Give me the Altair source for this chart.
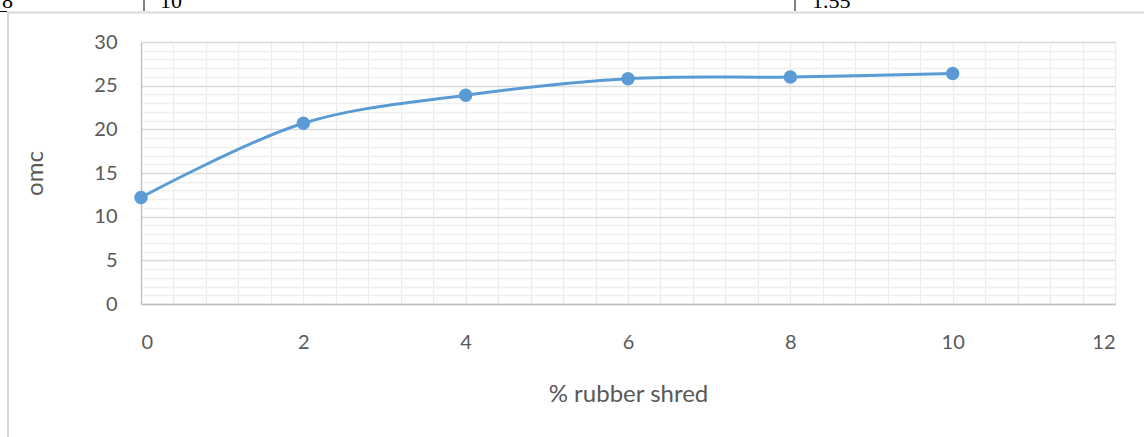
import altair as alt
import pandas as pd

# ---- data ----
rubber_pct = [0, 2, 4, 6, 8, 10]
omc_values = [12.2, 20.7, 23.9, 25.8, 26.0, 26.4]

x_tick_values = [round(0.4 * k, 1) for k in range(31)]   # minor grid every 0.4, labels every 2
y_tick_values = list(range(0, 31))                         # minor grid every 1, labels every 5

table_texts = ["8", "10", "1.55"]          # cut-off table row above the chart
table_text_x = [-139, 19, 671]

df = pd.DataFrame({"rubber": rubber_pct, "omc": omc_values})

FONT = "Lato"
TXT = "#595959"
W, H = 974, 262
PAD = {"left": 141, "top": 42, "right": 29, "bottom": 133}

x_axis = alt.Axis(
    values=x_tick_values,
    labelExpr="abs(datum.value - round(datum.value / 2) * 2) < 0.001 ? format(datum.value, 'd') : ''",
    title="% rubber shred",
    titleFont=FONT, titleFontSize=24, titleFontWeight="normal", titleColor=TXT,
    titlePadding=30,
    labelFont=FONT, labelFontSize=20, labelColor=TXT, labelPadding=28,
    ticks=False, tickSize=0,
    domainColor="#bfbfbf", domainWidth=1.3,
    grid=True, gridColor="#ececec", gridWidth=1.3,
    labelOverlap=False,
)
y_axis = alt.Axis(
    values=y_tick_values,
    labelExpr="datum.value % 5 === 0 ? format(datum.value, 'd') : ''",
    title="omc",
    titleFont=FONT, titleFontSize=24, titleFontWeight="normal", titleColor=TXT,
    titlePadding=46,
    labelFont=FONT, labelFontSize=20, labelColor=TXT, labelPadding=24,
    ticks=False, tickSize=0,
    domainColor="#bfbfbf", domainWidth=1.3,
    grid=True,
    gridColor={"condition": {"test": "datum.value % 5 === 0", "value": "#d9d9d9"}, "value": "#f0f0f0"},
    gridWidth=1.3,
    labelOverlap=False,
)

x_enc = alt.X("rubber:Q", scale=alt.Scale(domain=[0, 12], nice=False, zero=False), axis=x_axis)
y_enc = alt.Y("omc:Q", scale=alt.Scale(domain=[0, 30], nice=False), axis=y_axis)

base = alt.Chart(df).encode(x=x_enc, y=y_enc)
line = base.mark_line(interpolate="catmull-rom", color="#5b9bd5", strokeWidth=3)
pts = base.mark_point(filled=True, size=180, opacity=1, color="#5b9bd5")

one = pd.DataFrame({"a": [0]})
border_col = "#d9d9d9"
top_border = alt.Chart(one).mark_rule(color=border_col, strokeWidth=2).encode(
    x=alt.value(-134), x2=alt.value(1144 - 141), y=alt.value(12.5 - 42))
left_border = alt.Chart(one).mark_rule(color=border_col, strokeWidth=2).encode(
    x=alt.value(8 - 141), y=alt.value(12 - 42), y2=alt.value(437 - 42))
sep1 = alt.Chart(one).mark_rule(color="#000000", strokeWidth=1).encode(
    x=alt.value(144 - 141), y=alt.value(-42), y2=alt.value(11 - 42))
sep2 = alt.Chart(one).mark_rule(color="#000000", strokeWidth=1).encode(
    x=alt.value(795 - 141), y=alt.value(-42), y2=alt.value(11 - 42))
short = alt.Chart(one).mark_rule(color="#000000", strokeWidth=1).encode(
    x=alt.value(-141), x2=alt.value(-134), y=alt.value(11.5 - 42))

tdf = pd.DataFrame({"t": table_texts, "px": table_text_x})
frag = alt.Chart(tdf).mark_text(
    font="Liberation Serif", fontSize=22, color="#000000", align="left", baseline="alphabetic"
).encode(text="t:N", x=alt.X("px:Q", scale=None), y=alt.value(8 - 42))

chart = alt.layer(line, pts, top_border, left_border, sep1, sep2, short, frag).properties(
    width=W, height=H,
    autosize=alt.AutoSizeParams(type="none"),
    padding=PAD,
    background="white",
).configure_view(strokeWidth=0)

chart.save("out.html", embed_options={"renderer": "svg", "actions": False})
